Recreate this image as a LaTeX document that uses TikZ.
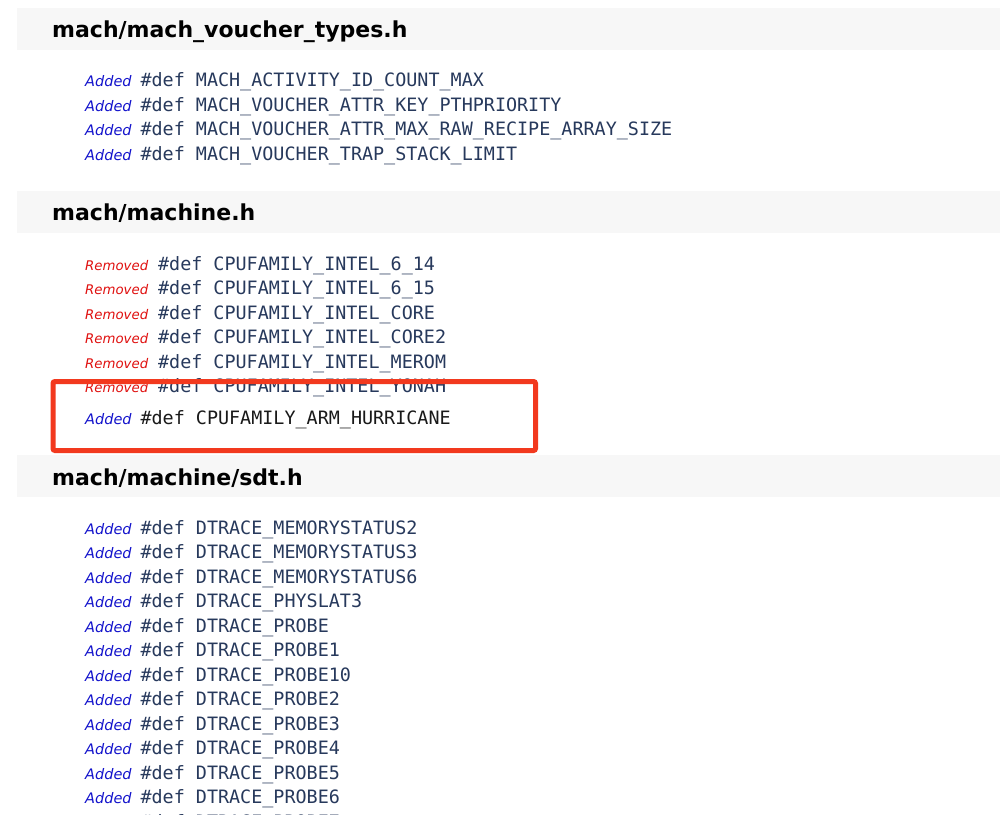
\documentclass[tikz,border=0pt]{standalone}
\usepackage{fontspec}
\setmainfont{DejaVu Sans}
\newfontfamily\codefont{DejaVu Sans Mono}

\definecolor{barGray}{HTML}{F7F7F7}
\definecolor{addBlue}{HTML}{1414CC}
\definecolor{remRed}{HTML}{E0100F}
\definecolor{codeNavy}{HTML}{27395C}
\definecolor{boxRed}{HTML}{F2391E}

\tikzset{
  header/.style={anchor=base west, inner sep=0pt, font=\fontsize{22}{26}\selectfont\bfseries},
  tag/.style={anchor=base west, inner sep=0pt},
  added/.style={tag, text=addBlue, font=\fontsize{14.5}{17}\selectfont\itshape},
  removed/.style={tag, text=remRed, font=\fontsize{13.3}{17}\selectfont\itshape},
  code/.style={anchor=base west, inner sep=0pt, text=codeNavy, font=\fontsize{18.4}{22}\selectfont\codefont},
}

\begin{document}
\begin{tikzpicture}[x=1pt, y=-1pt]

  \useasboundingbox (0, 0) rectangle (1000, 814);
  \clip (0, 0) rectangle (1000, 814);
  \fill[white] (0, 0) rectangle (1000, 814);

  % header bars
  \fill[barGray] (17, 8) rectangle (1000, 50);
  \fill[barGray] (17, 191) rectangle (1000, 233);
  \fill[barGray] (17, 455) rectangle (1000, 497);

  \node[header] (vouchertypes) at (52, 37) {mach/mach\_voucher\_types.h};
  \node[header] (machine) at (52, 220) {mach/machine.h};
  \node[header] (sdt) at (52, 485) {mach/machine/sdt.h};

  % mach_voucher_types.h
  \foreach \name [count=\i from 0] in {MACH\_ACTIVITY\_ID\_COUNT\_MAX, MACH\_VOUCHER\_ATTR\_KEY\_PTHPRIORITY,
      MACH\_VOUCHER\_ATTR\_MAX\_RAW\_RECIPE\_ARRAY\_SIZE, MACH\_VOUCHER\_TRAP\_STACK\_LIMIT} {
    \node[added] (vt-tag-\i) at (85, {86.5+24.5*\i}) {Added};
    \node[code] (vt-def-\i) at ([xshift=8.5pt]vt-tag-\i.base east) {\#def \name};
  }

  % machine.h
  \foreach \name [count=\i from 0] in {CPUFAMILY\_INTEL\_6\_14, CPUFAMILY\_INTEL\_6\_15, CPUFAMILY\_INTEL\_CORE,
      CPUFAMILY\_INTEL\_CORE2, CPUFAMILY\_INTEL\_MEROM, CPUFAMILY\_INTEL\_YONAH} {
    \node[removed] (m-tag-\i) at (85, {270+24.5*\i}) {Removed};
    \node[code] (m-def-\i) at ([xshift=9.5pt]m-tag-\i.base east) {\#def \name};
  }
  \node[added] (hurricane-tag) at (85, 424.5) {Added};
  \node[code, text=black!90] (hurricane) at ([xshift=8.5pt]hurricane-tag.base east) {\#def CPUFAMILY\_ARM\_HURRICANE};

  \draw[boxRed, line width=5pt, rounded corners=2pt] (53, 381.5) rectangle (535.5, 450.5);

  % machine/sdt.h
  \foreach \name [count=\i from 0] in {MEMORYSTATUS2, MEMORYSTATUS3, MEMORYSTATUS6, PHYSLAT3, PROBE, PROBE1,
      PROBE10, PROBE2, PROBE3, PROBE4, PROBE5, PROBE6, PROBE7} {
    \node[added] (s-tag-\i) at (85, {534+24.5*\i}) {Added};
    \node[code] (s-def-\i) at ([xshift=8.5pt]s-tag-\i.base east) {\#def DTRACE\_\name};
  }

\end{tikzpicture}
\end{document}
